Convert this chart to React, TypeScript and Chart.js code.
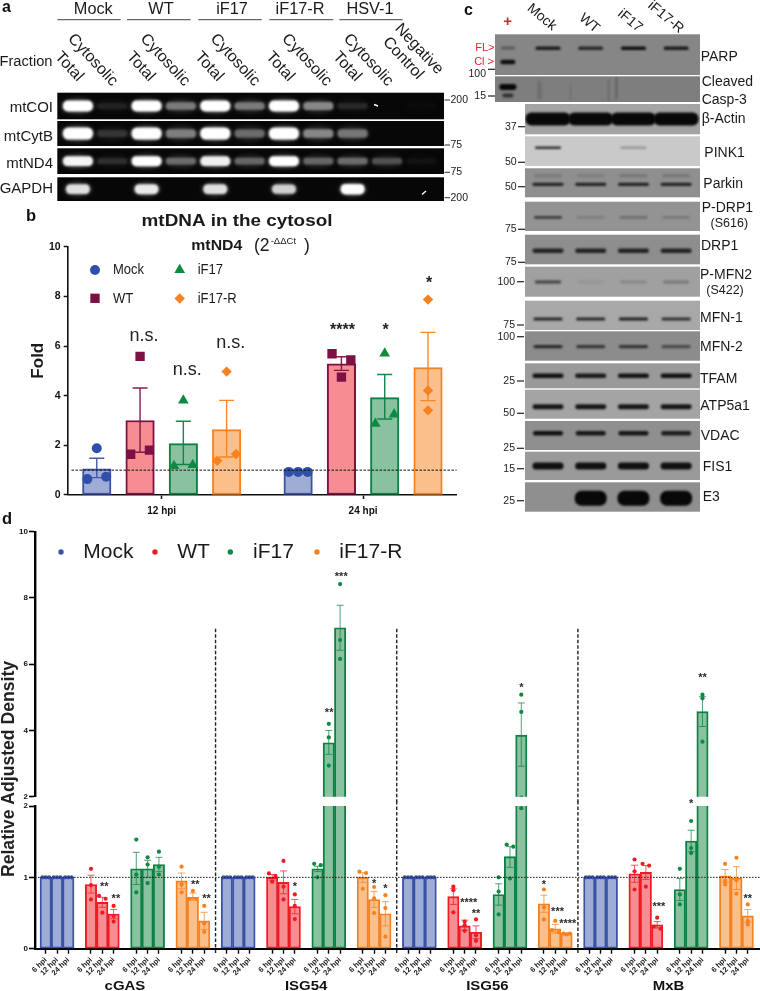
import React, { useEffect, useRef } from 'react';
import { Chart, registerables } from 'chart.js';
import { drawPoint } from 'chart.js/helpers';

Chart.register(...registerables);
Chart.defaults.font.family = '"Liberation Sans", Arial, sans-serif';

// ---------- Panel b data ----------
const B_TIMES = [12, 24];
const B_MOCK_MEAN = [1.05, 1.0];
const B_WT_MEAN = [3.0, 5.28];
const B_IF17_MEAN = [2.07, 3.92];
const B_IF17R_MEAN = [2.63, 5.13];
const B_MOCK_HI = [1.48, 1.0];
const B_WT_HI = [4.31, 5.57];
const B_IF17_HI = [2.97, 4.85];
const B_IF17R_HI = [3.81, 6.55];
const B_MOCK_LO = [0.7, 1.0];
const B_WT_LO = [1.72, 5.02];
const B_IF17_LO = [1.23, 3.06];
const B_IF17R_LO = [1.53, 3.8];
const B_MOCK_PTS = [[1.88, 0.64, 0.74], [0.93, 0.93, 0.93]];
const B_WT_PTS = [[5.58, 1.64, 1.81], [5.69, 5.44, 4.75]];
const B_IF17_PTS = [[3.81, 1.17, 1.21], [5.7, 2.87, 3.25]];
const B_IF17R_PTS = [[4.97, 1.38, 1.65], [7.87, 4.21, 3.41]];
const B_NOTES = [
  { s: 1, t: 0, v: 6.42, text: 'n.s.' },
  { s: 2, t: 0, v: 5.03, text: 'n.s.' },
  { s: 3, t: 0, v: 6.13, text: 'n.s.' },
  { s: 1, t: 1, v: 6.75, text: '****' },
  { s: 2, t: 1, v: 6.75, text: '*' },
  { s: 3, t: 1, v: 8.64, text: '*' },
];

// ---------- Panel d data ----------
const D_GENES = ['cGAS', 'ISG54', 'ISG56', 'MxB'];
const D_TIMES = ['6 hpi', '12 hpi', '24 hpi'];
const D_MOCK_MEAN = [1, 1, 1, 1, 1, 1, 1, 1, 1, 1, 1, 1];
const D_MOCK_PTS = D_MOCK_MEAN.map((m) => [m, m, m]);
const D_WT_MEAN = [0.9, 0.65, 0.486, 1.0, 0.93, 0.59, 0.73, 0.32, 0.23, 1.05, 1.07, 0.335];
const D_WT_HI = [1.03, 0.72, 0.55, 1.04, 1.09, 0.69, 0.84, 0.4, 0.32, 1.17, 1.165, 0.38];
const D_WT_LO = [0.78, 0.58, 0.42, 0.96, 0.77, 0.49, 0.62, 0.26, 0.14, 0.93, 0.97, 0.29];
const D_WT_PTS = [
  [1.12, 0.89, 0.69], [0.74, 0.7, 0.505], [0.6, 0.46, 0.38],
  [1.055, 1.02, 0.94], [1.23, 0.87, 0.69], [0.76, 0.6, 0.415],
  [0.87, 0.82, 0.51], [0.38, 0.33, 0.25], [0.41, 0.19, 0.11],
  [1.25, 1.085, 0.83], [1.19, 1.165, 0.87], [0.435, 0.31, 0.28],
];
const D_IF17_MEAN = [1.12, 1.12, 1.18, 1.12, 3.63, 7.1, 0.76, 1.29, 3.86, 0.83, 1.51, 4.57];
const D_IF17_HI = [1.35, 1.24, 1.28, 1.155, 4.0, 7.78, 0.91, 1.43, 4.83, 0.985, 1.66, 5.02];
const D_IF17_LO = [0.9, 1.0, 1.08, 1.08, 3.28, 6.42, 0.61, 1.14, 2.92, 0.675, 1.36, 4.12];
const D_IF17_PTS = [
  [1.53, 1.04, 0.79], [1.28, 1.18, 0.92], [1.36, 1.15, 1.04],
  [1.19, 1.17, 1.0], [4.2, 3.79, 2.94], [8.42, 6.73, 6.16],
  [1.0, 0.8, 0.48], [1.46, 1.43, 0.985], [5.08, 4.56, 1.97],
  [1.12, 0.76, 0.62], [1.79, 1.41, 1.34], [5.08, 4.97, 3.66],
];
const D_IF17R_MEAN = [0.95, 0.72, 0.39, 1.0, 0.69, 0.49, 0.63, 0.28, 0.215, 1.02, 0.99, 0.46];
const D_IF17R_HI = [1.06, 0.78, 0.51, 1.065, 0.8, 0.66, 0.75, 0.34, 0.22, 1.11, 1.15, 0.55];
const D_IF17R_LO = [0.84, 0.68, 0.27, 0.93, 0.58, 0.32, 0.51, 0.22, 0.21, 0.93, 0.83, 0.37];
const D_IF17R_PTS = [
  [1.15, 0.9, 0.79], [0.81, 0.7, 0.7], [0.6, 0.355, 0.235],
  [1.08, 1.06, 0.84], [0.865, 0.705, 0.5], [0.75, 0.57, 0.17],
  [0.83, 0.58, 0.41], [0.39, 0.26, 0.23], [0.21, 0.2, 0.21],
  [1.19, 0.95, 0.9], [1.275, 0.96, 0.77], [0.62, 0.39, 0.34],
];
const D_STARS = [
  { x: 5.17, v: 0.89, text: '**' }, { x: 6.2, v: 0.73, text: '**' },
  { x: 13.2, v: 0.925, text: '**' }, { x: 14.2, v: 0.73, text: '**' },
  { x: 22, v: 0.9, text: '*' }, { x: 29, v: 0.94, text: '*' }, { x: 30, v: 0.865, text: '*' },
  { x: 37.36, v: 0.67, text: '****' }, { x: 38, v: 0.51, text: '**' },
  { x: 44, v: 0.92, text: '*' }, { x: 45.2, v: 0.54, text: '***' }, { x: 46.1, v: 0.38, text: '****' },
  { x: 54.15, v: 0.61, text: '***' }, { x: 62, v: 0.72, text: '**' }, { x: 57, v: 2.05, text: '*' },
  { x: 25.03, v: 4.59, text: '**' }, { x: 26.1, v: 8.69, text: '***' },
  { x: 42, v: 5.33, text: '*' }, { x: 58, v: 5.63, text: '**' },
];

// ---------- Panel a data (band brightness per lane) ----------
const A_MTCOI = [1, 0.08, 1, 0.4, 1, 0.4, 1, 0.45, 0.1, 0, 0.02];
const A_MTCYTB = [1, 0.14, 1, 0.42, 1, 0.34, 1, 0.45, 0.38, 0, 0];
const A_MTND4 = [0.95, 0.12, 1, 0.34, 0.92, 0.32, 1, 0.32, 0.34, 0.24, 0.04];
const A_GAPDH = [0.85, 0, 0.9, 0, 0.85, 0, 0.78, 0, 1, 0, 0];

// ---------- Panel c data (band darkness per lane: Mock, WT, iF17, iF17-R) ----------
const C_PARP = [0.85, 0.75, 0.95, 0.85];
const C_ACTIN = [1, 1, 1, 1];
const C_PINK1 = [0.8, 0, 0.25, 0];
const C_PARKIN = [0.8, 0.8, 0.8, 0.8];
const C_PARKIN_UPPER = [0.16, 0.12, 0.18, 0.18];
const C_PDRP1 = [0.62, 0.14, 0.26, 0.18];
const C_DRP1 = [0.8, 0.8, 0.8, 0.8];
const C_PMFN2 = [0.62, 0.07, 0.16, 0.26];
const C_MFN1 = [0.8, 0.8, 0.85, 0.75];
const C_MFN2 = [0.75, 0.65, 0.68, 0.5];
const C_TFAM = [0.95, 0.88, 0.92, 0.95];
const C_ATP5A1 = [0.9, 0.9, 0.9, 0.9];
const C_VDAC = [0.95, 0.9, 0.9, 0.85];
const C_FIS1 = [0.95, 0.95, 0.95, 0.95];
const C_E3 = [0, 1, 1, 1];

// ---------- Layout and style ----------
const FONT = '"Liberation Sans", Arial, sans-serif';
const W = 760;
const H = 991;
const BLUE = '#3a53a4';
const RED = '#ed1c24';
const GREEN = '#0d8043';
const ORANGE = '#f58220';
const BURGUNDY = '#7d1143';
const FILL_BLUE = '#9fadd6';
const FILL_RED = '#f68d93';
const FILL_GREEN = '#8ac2a0';
const FILL_ORANGE = '#fbbf8b';

type TextOpt = { size?: number; weight?: string; color?: string; align?: CanvasTextAlign; rot?: number; sx?: number };
function text(ctx: CanvasRenderingContext2D, s: string, x: number, y: number, o: TextOpt = {}) {
  const { size = 14, weight = 'normal', color = '#1a1a1a', align = 'left', rot = 0, sx = 1 } = o;
  ctx.save();
  ctx.translate(x, y);
  ctx.rotate((rot * Math.PI) / 180);
  ctx.scale(sx, 1);
  ctx.font = `${weight} ${size}px ${FONT}`;
  ctx.fillStyle = color;
  ctx.textAlign = align;
  ctx.textBaseline = 'middle';
  ctx.fillText(s, 0, 0);
  ctx.restore();
}

function spreadOffsets(vals: number[], th: number) {
  const out = [0, 0, 0];
  const close = (a: number, b: number) => Math.abs(a - b) < th;
  if (close(vals[0], vals[1]) && close(vals[1], vals[2])) return [-1, 0, 1];
  for (let i = 0; i < 3; i++) {
    for (let j = i + 1; j < 3; j++) {
      if (close(vals[i], vals[j])) {
        out[i] = -1;
        out[j] = 1;
      }
    }
  }
  return out;
}

type Err = { x: number; hi: number; lo: number; color: string };
function errorPlugin(items: Err[], cap: number, lw: number, alpha: number) {
  return {
    id: 'errs',
    beforeDatasetDraw(chart: any, args: any) {
      if (args.meta.type !== 'scatter' || chart.$errDone) return;
      chart.$errDone = true;
      const { ctx, chartArea: a, scales } = chart;
      ctx.save();
      ctx.beginPath();
      ctx.rect(a.left, a.top, a.width, a.height);
      ctx.clip();
      ctx.lineWidth = lw;
      ctx.globalAlpha = alpha;
      for (const e of items) {
        if (e.hi === e.lo) continue;
        const x = scales.x.getPixelForValue(e.x);
        const h = scales.y.getPixelForValue(e.hi);
        const l = scales.y.getPixelForValue(e.lo);
        ctx.strokeStyle = e.color;
        ctx.beginPath();
        ctx.moveTo(x, h);
        ctx.lineTo(x, l);
        ctx.moveTo(x - cap / 2, h);
        ctx.lineTo(x + cap / 2, h);
        ctx.moveTo(x - cap / 2, l);
        ctx.lineTo(x + cap / 2, l);
        ctx.stroke();
      }
      ctx.restore();
    },
    beforeDraw(chart: any) {
      chart.$errDone = false;
    },
  };
}

// ---------- Panel a ----------
function panelAConfig() {
  const rows = [
    { name: 'mtCOI', vals: A_MTCOI, top: 92.7, bottom: 119.3, h: 11, w: 30 },
    { name: 'mtCytB', vals: A_MTCYTB, top: 121, bottom: 146, h: 12, w: 30 },
    { name: 'mtND4', vals: A_MTND4, top: 148.3, bottom: 174, h: 10, w: 30 },
    { name: 'GAPDH', vals: A_GAPDH, top: 177.3, bottom: 201, h: 10.5, w: 24 },
  ];
  const ladder = [
    { t: '200', y: 100 }, { t: '75', y: 145 }, { t: '75', y: 172.3 }, { t: '200', y: 197.7 },
  ];
  const groups = [
    { t: 'Mock', c: 93.3, a: 57.3, b: 120.7 }, { t: 'WT', c: 161, a: 127, b: 190.7 },
    { t: 'iF17', c: 232, a: 198.3, b: 261.7 }, { t: 'iF17-R', c: 300, a: 269.3, b: 333.3 },
    { t: 'HSV-1', c: 370, a: 339.3, b: 402.7 },
  ];
  const fractions = [
    { t: 'Total', x: 69, y: 66.7 }, { t: 'Cytosolic', x: 92.7, y: 60 },
    { t: 'Total', x: 140.7, y: 66.7 }, { t: 'Cytosolic', x: 165, y: 60 },
    { t: 'Total', x: 209, y: 66.7 }, { t: 'Cytosolic', x: 235, y: 60 },
    { t: 'Total', x: 280, y: 66.7 }, { t: 'Cytosolic', x: 306.7, y: 60 },
    { t: 'Total', x: 347, y: 66.7 }, { t: 'Cytosolic', x: 368.3, y: 60 },
    { t: 'Control', x: 403, y: 58.3 }, { t: 'Negative', x: 419, y: 49 },
  ];
  const plugin = {
    id: 'gelA',
    beforeDatasetsDraw(chart: any) {
      const { ctx, chartArea: a } = chart;
      rows.forEach((r, ri) => {
        const top = chart.scales.y.getPixelForValue(r.top);
        const bottom = chart.scales.y.getPixelForValue(r.bottom);
        ctx.save();
        ctx.fillStyle = '#070707';
        ctx.fillRect(a.left, top, a.width, bottom - top);
        ctx.beginPath();
        ctx.rect(a.left, top, a.width, bottom - top);
        ctx.clip();
        chart.getDatasetMeta(ri).data.forEach((pt: any, i: number) => {
          const v = r.vals[i];
          if (v <= 0) return;
          const gray = Math.round(255 * Math.min(1, Math.pow(v, 0.8)));
          ctx.filter = 'blur(2.5px)';
          ctx.fillStyle = `rgba(${gray},${gray},${gray},0.35)`;
          ctx.beginPath();
          ctx.ellipse(pt.x, pt.y, r.w / 2 + 1, r.h / 2 + 1, 0, 0, Math.PI * 2);
          ctx.fill();
          ctx.filter = 'blur(1.1px)';
          ctx.fillStyle = `rgb(${gray},${gray},${gray})`;
          ctx.beginPath();
          const bh = r.h * (0.5 + 0.5 * v);
          ctx.roundRect(pt.x - r.w / 2, pt.y - bh / 2, r.w, bh, bh / 2.2);
          ctx.fill();
        });
        ctx.restore();
      });
      ctx.save();
      ctx.filter = 'blur(0.5px)';
      ctx.strokeStyle = '#fff';
      ctx.lineWidth = 1.4;
      ctx.beginPath();
      ctx.moveTo(374, 104.5);
      ctx.lineTo(378, 106);
      ctx.moveTo(422, 194.5);
      ctx.lineTo(426, 191);
      ctx.stroke();
      ctx.restore();
    },
    afterDraw(chart: any) {
      const { ctx } = chart;
      text(ctx, 'a', 2, 8, { size: 16, weight: 'bold', color: '#111' });
      groups.forEach((g) => {
        text(ctx, g.t, g.c, 10, { size: 16.3, align: 'center' });
        ctx.fillStyle = '#444';
        ctx.fillRect(g.a, 19.2, g.b - g.a, 1);
      });
      text(ctx, 'Fraction', 52.5, 61.7, { size: 14.7, align: 'right' });
      fractions.forEach((f) => text(ctx, f.t, f.x, f.y, { size: 16, align: 'center', rot: 47 }));
      const labelY = [108, 136.7, 164, 189.3];
      rows.forEach((r, i) => text(ctx, r.name, 53, labelY[i], { size: 15, align: 'right' }));
      ladder.forEach((l) => {
        ctx.fillStyle = '#333';
        ctx.fillRect(444.5, l.y - 0.5, 5.5, 1);
        text(ctx, l.t, 450.5, l.y, { size: 10.5, color: '#222' });
      });
    },
  };
  return {
    type: 'scatter',
    data: {
      datasets: rows.map((r) => ({
        label: r.name,
        data: r.vals.map((_, i) => ({ x: i, y: (r.top + r.bottom) / 2 })),
        pointRadius: 0,
      })),
    },
    options: {
      animation: false,
      responsive: false,
      layout: { autoPadding: false, padding: { left: 57.3, right: W - 444, top: 92.7, bottom: H - 201 } },
      plugins: { legend: { display: false }, tooltip: { enabled: false } },
      scales: {
        x: { display: false, min: -0.6, max: 10.66 },
        y: { display: false, min: 92.7, max: 201, reverse: true },
      },
    },
    plugins: [plugin],
  };
}

// ---------- Panel c ----------
function panelCConfig() {
  const L = -1.241;
  const S = -0.539;
  const R = 3.559;
  const blots = [
    { t: 'PARP', top: 34.3, bottom: 75, left: L, bg: '#868686' },
    { t: 'Cleaved', top: 76.3, bottom: 102, left: L, bg: '#7e7e7e' },
    { t: 'Actin', top: 104, bottom: 134.3, left: S, bg: '#a4a4a4' },
    { t: 'PINK1', top: 136.3, bottom: 166, left: S, bg: '#c9c9c9' },
    { t: 'Parkin', top: 168.3, bottom: 197.3, left: S, bg: '#8f8f8f' },
    { t: 'PDRP1', top: 201.7, bottom: 231, left: S, bg: '#939393' },
    { t: 'DRP1', top: 234.7, bottom: 264.3, left: S, bg: '#8e8e8e' },
    { t: 'PMFN2', top: 266.7, bottom: 296.7, left: S, bg: '#a0a0a0' },
    { t: 'MFN1', top: 300.7, bottom: 330, left: S, bg: '#a8a8a8' },
    { t: 'MFN2', top: 331.3, bottom: 360.7, left: S, bg: '#8c8c8c' },
    { t: 'TFAM', top: 363.3, bottom: 388.3, left: S, bg: '#9a9a9a' },
    { t: 'ATP5a1', top: 389.7, bottom: 418.7, left: S, bg: '#a4a4a4' },
    { t: 'VDAC', top: 421, bottom: 450, left: S, bg: '#8f8f8f' },
    { t: 'FIS1', top: 451.7, bottom: 480, left: S, bg: '#9a9a9a' },
    { t: 'E3', top: 482.3, bottom: 511.7, left: S, bg: '#8f8f8f' },
  ];
  const sets = [
    { vals: C_PARP, y: 48.3, w: 29, h: 3.4 },
    { vals: C_ACTIN, y: 119, w: 45, h: 13 },
    { vals: C_PINK1, y: 147.7, w: 30, h: 2.4 },
    { vals: C_PARKIN, y: 184.3, w: 35, h: 3.2 },
    { vals: C_PARKIN_UPPER, y: 175.7, w: 32, h: 3 },
    { vals: C_PDRP1, y: 217.3, w: 32, h: 2.8 },
    { vals: C_DRP1, y: 250.7, w: 35, h: 4.4 },
    { vals: C_PMFN2, y: 282, w: 30, h: 2.8 },
    { vals: C_MFN1, y: 319, w: 33, h: 3 },
    { vals: C_MFN2, y: 346.7, w: 33, h: 3.2 },
    { vals: C_TFAM, y: 375.7, w: 35, h: 4.4 },
    { vals: C_ATP5A1, y: 406.7, w: 35, h: 5 },
    { vals: C_VDAC, y: 433.3, w: 34, h: 4.4 },
    { vals: C_FIS1, y: 466, w: 35, h: 7 },
    { vals: C_E3, y: 498.3, w: 36, h: 15 },
  ];
  const extra = [
    { x: -0.94, y: 48, v: 0.35, w: 18, h: 3 },
    { x: -0.94, y: 62, v: 0.95, w: 19, h: 4.5 },
    { x: -0.94, y: 87, v: 1, w: 21, h: 6 },
    { x: -0.94, y: 95.5, v: 0.65, w: 15, h: 4 },
    { x: -0.2, y: 90, v: 0.14, w: 8, h: 18 },
    { x: 0.5, y: 92, v: 0.18, w: 2.5, h: 14 },
    { x: 1.4, y: 90, v: 0.28, w: 3, h: 22 },
    { x: 1.6, y: 88, v: 0.5, w: 5, h: 22 },
  ];
  const names = [
    { t: 'PARP', x: 700.7, y: 57.3 }, { t: 'Cleaved', x: 701.7, y: 81.7 }, { t: 'Casp-3', x: 701.7, y: 100 },
    { t: 'β-Actin', x: 701.7, y: 119 }, { t: 'PINK1', x: 704.3, y: 152.7 }, { t: 'Parkin', x: 703.3, y: 184.3 },
    { t: 'P-DRP1', x: 701.7, y: 208.3 }, { t: 'DRP1', x: 701, y: 245.7 }, { t: 'P-MFN2', x: 700, y: 275 },
    { t: 'MFN-1', x: 700, y: 318.3 }, { t: 'MFN-2', x: 700, y: 347.3 }, { t: 'TFAM', x: 700, y: 379.3 },
    { t: 'ATP5a1', x: 700.3, y: 406 }, { t: 'VDAC', x: 700.7, y: 435.7 }, { t: 'FIS1', x: 702.7, y: 466.7 },
    { t: 'E3', x: 702.7, y: 496.7 },
  ];
  const mw = [
    { t: '100', y: 69.3, ly: 74, e: 495, r: 486 }, { t: '15', y: 96, ly: 96, e: 495, r: 486 },
    { t: '37', y: 126.7, ly: 126.7, e: 525, r: 516.7 }, { t: '50', y: 162.3, ly: 162.3, e: 525, r: 516.7 },
    { t: '50', y: 186.7, ly: 186.7, e: 525, r: 516.7 }, { t: '75', y: 229.3, ly: 229.3, e: 525, r: 516.7 },
    { t: '75', y: 262.3, ly: 262.3, e: 525, r: 516.7 }, { t: '100', y: 281.7, ly: 281.7, e: 524, r: 515 },
    { t: '75', y: 325, ly: 325, e: 524, r: 515 }, { t: '100', y: 336.7, ly: 336.7, e: 524, r: 515 },
    { t: '25', y: 381, ly: 381, e: 524, r: 515 }, { t: '50', y: 413.3, ly: 413.3, e: 524, r: 515 },
    { t: '25', y: 448.3, ly: 448.3, e: 524, r: 515 }, { t: '15', y: 468.7, ly: 468.7, e: 524, r: 515 },
    { t: '25', y: 500.7, ly: 500.7, e: 524, r: 515 },
  ];
  const plugin = {
    id: 'gelC',
    beforeDatasetsDraw(chart: any) {
      const { ctx, scales } = chart;
      blots.forEach((b) => {
        const x0 = scales.x.getPixelForValue(b.left);
        const x1 = scales.x.getPixelForValue(R);
        const y0 = scales.y.getPixelForValue(b.top);
        const y1 = scales.y.getPixelForValue(b.bottom);
        ctx.fillStyle = b.bg;
        ctx.fillRect(x0, y0, x1 - x0, y1 - y0);
      });
      chart.data.datasets.forEach((ds: any, di: number) => {
        chart.getDatasetMeta(di).data.forEach((pt: any, i: number) => {
          const d = ds.data[i];
          if (!d.v) return;
          ctx.save();
          const blot = blots.find((b) => d.y >= b.top && d.y <= b.bottom);
          if (blot) {
            const x0 = scales.x.getPixelForValue(blot.left);
            const x1 = scales.x.getPixelForValue(R);
            const y0 = scales.y.getPixelForValue(blot.top);
            const y1 = scales.y.getPixelForValue(blot.bottom);
            ctx.beginPath();
            ctx.rect(x0, y0, x1 - x0, y1 - y0);
            ctx.clip();
          }
          ctx.filter = 'blur(1px)';
          ctx.fillStyle = `rgba(8,8,8,${d.v})`;
          ctx.beginPath();
          const inset = d.w >= 44 ? 0 : 2;
          ctx.roundRect(pt.x - d.w / 2 + inset, pt.y - d.h / 2, Math.max(d.w - inset * 2, 1), d.h, d.h / 2.2);
          ctx.fill();
          ctx.restore();
        });
      });
    },
    afterDraw(chart: any) {
      const { ctx } = chart;
      text(ctx, 'c', 464, 11, { size: 16, weight: 'bold', color: '#111' });
      text(ctx, '+', 507.7, 22, { size: 15, weight: 'bold', color: '#ed1c24', align: 'center' });
      text(ctx, 'Mock', 541.7, 17.3, { size: 14, align: 'center', rot: 40 });
      text(ctx, 'WT', 589.3, 23.3, { size: 14, align: 'center', rot: 40 });
      text(ctx, 'iF17', 630, 20.7, { size: 14, align: 'center', rot: 40 });
      text(ctx, 'iF17-R', 665.7, 17.3, { size: 14, align: 'center', rot: 40 });
      text(ctx, 'FL>', 494.5, 47.7, { size: 11, color: '#ed1c24', align: 'right' });
      text(ctx, 'Cl >', 494, 62, { size: 11, color: '#ed1c24', align: 'right' });
      names.forEach((n) => text(ctx, n.t, n.x, n.y, { size: 14 }));
      text(ctx, '(S616)', 729.3, 224, { size: 12.5, align: 'center' });
      text(ctx, '(S422)', 725, 290.7, { size: 12.5, align: 'center' });
      mw.forEach((m) => {
        ctx.fillStyle = '#222';
        ctx.fillRect(m.e - 7, m.y - 0.6, 7, 1.2);
        text(ctx, m.t, m.r, m.ly, { size: 10.5, align: 'right', color: '#222' });
      });
    },
  };
  const data = sets.flatMap((s) => s.vals.map((v, i) => ({ x: i, y: s.y, v, w: s.w, h: s.h }))).concat(extra);
  return {
    type: 'scatter',
    data: { datasets: [{ label: 'bands', data, pointRadius: 0 }] },
    options: {
      animation: false,
      responsive: false,
      layout: { autoPadding: false, padding: { left: 495, right: W - 700, top: 34.3, bottom: H - 512 } },
      plugins: { legend: { display: false }, tooltip: { enabled: false } },
      scales: {
        x: { display: false, min: L, max: R },
        y: { display: false, min: 34.3, max: 512, reverse: true },
      },
    },
    plugins: [plugin],
  };
}

// ---------- Panel b ----------
const B_STEP = 2.58;
function panelBConfig() {
  const series = [
    { name: 'Mock', mean: B_MOCK_MEAN, hi: B_MOCK_HI, lo: B_MOCK_LO, pts: B_MOCK_PTS, fill: FILL_BLUE, line: BLUE, mark: '#2f4fa8', style: 'circle', r: 5 },
    { name: 'WT', mean: B_WT_MEAN, hi: B_WT_HI, lo: B_WT_LO, pts: B_WT_PTS, fill: FILL_RED, line: BURGUNDY, mark: BURGUNDY, style: 'rect', r: 6.6 },
    { name: 'iF17', mean: B_IF17_MEAN, hi: B_IF17_HI, lo: B_IF17_LO, pts: B_IF17_PTS, fill: FILL_GREEN, line: GREEN, mark: '#0f8a45', style: 'triangle', r: 6.2 },
    { name: 'iF17-R', mean: B_IF17R_MEAN, hi: B_IF17R_HI, lo: B_IF17R_LO, pts: B_IF17R_PTS, fill: FILL_ORANGE, line: ORANGE, mark: ORANGE, style: 'rectRot', r: 5.2 },
  ];
  const pos = (s: number, t: number) => B_TIMES[t] + (s - 1.5) * B_STEP;
  const bars = series.map((s, si) => ({
    type: 'bar',
    label: s.name,
    data: s.mean.map((m, t) => ({ x: pos(si, t), y: m })),
    backgroundColor: s.fill,
    borderColor: s.line,
    borderWidth: 2,
    borderSkipped: false,
    barThickness: 28.5,
    grouped: false,
    order: 5,
  }));
  const points = series.map((s, si) => ({
    type: 'scatter',
    label: s.name + ' replicates',
    data: s.pts.flatMap((vals, t) => {
      const off = spreadOffsets(vals, 0.4);
      return vals.map((v, i) => ({ x: pos(si, t) + off[i] * 0.56, y: v }));
    }),
    pointStyle: s.style,
    pointRadius: s.r,
    backgroundColor: s.mark,
    borderWidth: 0,
    order: 1,
  }));
  const errs: Err[] = series.flatMap((s, si) =>
    s.mean.map((_, t) => ({ x: pos(si, t), hi: s.hi[t], lo: s.lo[t], color: s.line }))
  );
  const plugin = {
    id: 'panelB',
    afterDatasetsDraw(chart: any) {
      const { ctx, scales } = chart;
      const y = scales.y.getPixelForValue(1);
      ctx.save();
      ctx.setLineDash([2.5, 1.5]);
      ctx.strokeStyle = '#111';
      ctx.lineWidth = 1;
      ctx.beginPath();
      ctx.moveTo(71.5, y);
      ctx.lineTo(456.7, y);
      ctx.stroke();
      ctx.restore();
    },
    afterDraw(chart: any) {
      const { ctx, scales } = chart;
      text(ctx, 'b', 26, 216, { size: 16.5, weight: 'bold', color: '#111' });
      text(ctx, 'mtDNA in the cytosol', 237, 221.7, { size: 17, weight: 'bold', align: 'center', sx: 1.11 });
      text(ctx, 'mtND4', 191.3, 245.7, { size: 14, weight: 'bold', sx: 1.13 });
      text(ctx, '(2', 254, 246, { size: 17.5 });
      text(ctx, '-ΔΔCt', 270.7, 241, { size: 9.5 });
      text(ctx, ')', 304, 246, { size: 17.5 });
      text(ctx, 'Fold', 38.3, 360.7, { size: 17, weight: 'bold', align: 'center', rot: -90 });
      const legend = [
        { x: 95, y: 270 }, { x: 95, y: 298.3 }, { x: 179.7, y: 270 }, { x: 179.7, y: 298.5 },
      ];
      series.forEach((s, i) => {
        ctx.save();
        ctx.fillStyle = s.mark;
        drawPoint(ctx, { pointStyle: s.style, rotation: 0, borderWidth: 0, radius: s.r }, legend[i].x, legend[i].y);
        ctx.restore();
        text(ctx, s.name, legend[i].x + 18, legend[i].y, { size: 15.5, sx: 0.84 });
      });
      B_NOTES.forEach((n) => {
        const x = scales.x.getPixelForValue(pos(n.s, n.t));
        const y = scales.y.getPixelForValue(n.v);
        if (n.text === 'n.s.') text(ctx, n.text, x + 4, y, { size: 18, align: 'center', color: '#222' });
        else text(ctx, n.text, x + 1, y + 3, { size: 16, weight: 'bold', align: 'center', color: '#222' });
      });
    },
  };
  return {
    type: 'bar',
    data: { datasets: [...bars, ...points] },
    options: {
      animation: false,
      responsive: false,
      layout: { autoPadding: false, padding: { left: 0, right: W - 456.7, top: 246.7, bottom: H - 495 - 22 } },
      plugins: { legend: { display: false }, tooltip: { enabled: false } },
      scales: {
        x: {
          type: 'linear',
          offset: false,
          min: 6.398,
          max: 29.58,
          afterBuildTicks: (a: any) => {
            a.ticks = B_TIMES.map((v) => ({ value: v }));
          },
          afterFit: (s: any) => {
            s.height = 22;
          },
          grid: { display: true, offset: false, drawOnChartArea: false, tickLength: 4, tickWidth: 1.5, tickColor: '#111' },
          border: { display: true, color: '#111', width: 1.6 },
          ticks: {
            autoSkip: false,
            maxRotation: 0,
            padding: 6,
            color: '#111',
            font: { size: 10, weight: 'bold' },
            callback: (v: number) => `${v} hpi`,
          },
        },
        y: {
          min: 0,
          max: 10,
          afterFit: (s: any) => {
            s.width = 67.7;
          },
          grid: { display: true, drawOnChartArea: false, tickLength: 4, tickWidth: 1.5, tickColor: '#111' },
          border: { display: true, color: '#111', width: 1.6 },
          ticks: { stepSize: 2, padding: 3, color: '#111', font: { size: 10.5, weight: 'bold' } },
        },
      },
    },
    plugins: [errorPlugin(errs, 15, 1.4, 0.95), plugin],
  };
}

// ---------- Panel d ----------
const D_SERIES = [
  { name: 'Mock', mean: D_MOCK_MEAN, hi: D_MOCK_MEAN, lo: D_MOCK_MEAN, pts: D_MOCK_PTS, fill: FILL_BLUE, line: BLUE, dot: BLUE },
  { name: 'WT', mean: D_WT_MEAN, hi: D_WT_HI, lo: D_WT_LO, pts: D_WT_PTS, fill: FILL_RED, line: RED, dot: RED },
  { name: 'iF17', mean: D_IF17_MEAN, hi: D_IF17_HI, lo: D_IF17_LO, pts: D_IF17_PTS, fill: FILL_GREEN, line: GREEN, dot: '#0a8a45' },
  { name: 'iF17-R', mean: D_IF17R_MEAN, hi: D_IF17R_HI, lo: D_IF17R_LO, pts: D_IF17R_PTS, fill: FILL_ORANGE, line: ORANGE, dot: ORANGE },
];
const slotOf = (series: number, k: number) => Math.floor(k / 3) * 16 + series * 4 + (k % 3);
const D_X_MIN = -0.944;
const D_X_MAX = 63.08;
const SLOT_PX = (760 - 35) / (D_X_MAX - D_X_MIN);

function dDatasets() {
  const bars = D_SERIES.map((s, si) => ({
    type: 'bar',
    label: s.name,
    data: s.mean.map((m, k) => ({ x: slotOf(si, k), y: m })),
    backgroundColor: s.fill,
    borderColor: s.line,
    borderWidth: 1.9,
    borderSkipped: false,
    barThickness: SLOT_PX,
    grouped: false,
    clip: 0,
    order: 5,
  }));
  const points = D_SERIES.map((s, si) => ({
    type: 'scatter',
    label: s.name + ' replicates',
    data: s.pts.flatMap((vals, k) => {
      const off = spreadOffsets(vals, 0.045);
      return vals.map((v, i) => ({ x: slotOf(si, k) + off[i] * 0.29, y: v }));
    }),
    pointStyle: 'circle',
    pointRadius: 2.1,
    backgroundColor: s.dot,
    borderWidth: 0,
    clip: 0,
    order: 1,
  }));
  return [...bars, ...points];
}
function dErrs(): Err[] {
  return D_SERIES.flatMap((s, si) =>
    s.mean.map((_, k) => ({ x: slotOf(si, k), hi: s.hi[k], lo: s.lo[k], color: s.line }))
  );
}
const D_SEPARATORS = [15, 31, 47];
function starPlugin(vMin: number, vMax: number) {
  return {
    id: 'stars',
    afterDraw(chart: any) {
      const { ctx, scales } = chart;
      D_STARS.filter((s) => s.v >= vMin && s.v < vMax).forEach((s) =>
        text(ctx, s.text, scales.x.getPixelForValue(s.x), scales.y.getPixelForValue(s.v) + 2, {
          size: 11,
          weight: 'bold',
          align: 'center',
          color: '#2a2a2a',
        })
      );
    },
  };
}
function panelDUpperConfig() {
  const plugin = {
    id: 'dUpper',
    afterDatasetsDraw(chart: any) {
      const { ctx, scales, chartArea: a } = chart;
      ctx.save();
      ctx.setLineDash([3.5, 2]);
      ctx.strokeStyle = '#222';
      ctx.lineWidth = 1.4;
      D_SEPARATORS.forEach((sl) => {
        const x = scales.x.getPixelForValue(sl);
        ctx.beginPath();
        ctx.moveTo(x, scales.y.getPixelForValue(7.07));
        ctx.lineTo(x, a.bottom + 5);
        ctx.stroke();
      });
      ctx.restore();
    },
    afterDraw(chart: any) {
      const { ctx } = chart;
      text(ctx, 'd', 2, 519, { size: 16.5, weight: 'bold', color: '#111' });
      const lg = [{ d: 61, t: 83.3 }, { d: 155, t: 177.3 }, { d: 230.3, t: 253 }, { d: 317, t: 339.3 }];
      D_SERIES.forEach((s, i) => {
        ctx.fillStyle = s.dot;
        ctx.beginPath();
        ctx.arc(lg[i].d, 552, 2.7, 0, Math.PI * 2);
        ctx.fill();
        text(ctx, s.name, lg[i].t, 552, { size: 21, color: '#1a1a1a' });
      });
      text(ctx, 'Relative Adjusted Density', 9, 769, { size: 17.6, weight: 'bold', align: 'center', rot: -90, color: '#222' });
    },
  };
  return {
    type: 'bar',
    data: { datasets: dDatasets() },
    options: {
      animation: false,
      responsive: false,
      layout: { autoPadding: false, padding: { left: 0, right: 0, top: 531.7, bottom: H - 796.7 } },
      plugins: { legend: { display: false }, tooltip: { enabled: false } },
      scales: {
        x: { type: 'linear', display: false, offset: false, min: D_X_MIN, max: D_X_MAX, grid: { offset: false } },
        y: {
          min: 2,
          max: 10,
          afterFit: (s: any) => {
            s.width = 35;
          },
          grid: { display: true, drawOnChartArea: false, tickLength: 6, tickWidth: 1.6, tickColor: '#000' },
          border: { display: true, color: '#000', width: 2.4 },
          ticks: { stepSize: 2, padding: 1, color: '#111', font: { size: 8, weight: 'bold' } },
        },
      },
    },
    plugins: [errorPlugin(dErrs(), 7, 0.9, 0.8), plugin, starPlugin(2.5, 100)],
  };
}
function panelDLowerConfig() {
  const slots: number[] = [];
  const labels: Record<number, string> = {};
  D_GENES.forEach((_, g) =>
    D_SERIES.forEach((__, s) =>
      D_TIMES.forEach((t, i) => {
        const k = g * 3 + i;
        const sl = slotOf(s, k);
        slots.push(sl);
        labels[sl] = t;
      })
    )
  );
  const plugin = {
    id: 'dLower',
    afterDatasetsDraw(chart: any) {
      const { ctx, scales, chartArea: a } = chart;
      const y1 = scales.y.getPixelForValue(1);
      ctx.save();
      ctx.setLineDash([1.6, 1.4]);
      ctx.strokeStyle = '#222';
      ctx.lineWidth = 1;
      ctx.beginPath();
      ctx.moveTo(a.left, y1);
      ctx.lineTo(a.right, y1);
      ctx.stroke();
      ctx.setLineDash([3.5, 2]);
      ctx.lineWidth = 1.4;
      D_SEPARATORS.forEach((sl) => {
        const x = scales.x.getPixelForValue(sl);
        ctx.beginPath();
        ctx.moveTo(x, a.top - 5);
        ctx.lineTo(x, a.bottom + 5);
        ctx.stroke();
      });
      ctx.restore();
    },
    afterDraw(chart: any) {
      const { ctx, scales } = chart;
      D_GENES.forEach((g, i) =>
        text(ctx, g, scales.x.getPixelForValue(i * 16 + 7), 986, { size: 13, weight: 'bold', align: 'center', sx: 1.15, color: '#111' })
      );
    },
  };
  return {
    type: 'bar',
    data: { datasets: dDatasets() },
    options: {
      animation: false,
      responsive: false,
      layout: { autoPadding: false, padding: { left: 0, right: 0, top: 806, bottom: H - 948.7 - 32 } },
      plugins: { legend: { display: false }, tooltip: { enabled: false } },
      scales: {
        x: {
          type: 'linear',
          offset: false,
          min: D_X_MIN,
          max: D_X_MAX,
          afterBuildTicks: (a: any) => {
            a.ticks = slots.map((v) => ({ value: v }));
          },
          afterFit: (s: any) => {
            s.height = 32;
          },
          grid: { display: true, offset: false, drawOnChartArea: false, tickLength: 5, tickWidth: 1.4, tickColor: '#000' },
          border: { display: true, color: '#000', width: 2 },
          ticks: {
            autoSkip: false,
            minRotation: 45,
            maxRotation: 45,
            padding: 2,
            color: '#222',
            font: { size: 7.5, weight: 'bold' },
            callback: (v: number) => labels[v] ?? '',
          },
        },
        y: {
          min: 0,
          max: 2,
          afterFit: (s: any) => {
            s.width = 35;
          },
          grid: { display: true, drawOnChartArea: false, tickLength: 6, tickWidth: 1.6, tickColor: '#000' },
          border: { display: true, color: '#000', width: 2.4 },
          ticks: { stepSize: 1, padding: 1, color: '#111', font: { size: 8, weight: 'bold' } },
        },
      },
    },
    plugins: [errorPlugin(dErrs(), 7, 0.9, 0.8), plugin, starPlugin(0, 2.5)],
  };
}

const CONFIGS = [panelAConfig, panelCConfig, panelBConfig, panelDUpperConfig, panelDLowerConfig];

function Layer({ make }: { make: () => any }) {
  const ref = useRef<HTMLCanvasElement | null>(null);
  useEffect(() => {
    if (!ref.current) return;
    const chart = new Chart(ref.current, make());
    return () => chart.destroy();
  }, [make]);
  return <canvas ref={ref} width={W} height={H} style={{ position: 'absolute', left: 0, top: 0 }} />;
}

export default function App() {
  return (
    <div style={{ position: 'absolute', left: 0, top: 0, width: W, height: H, background: '#fff', overflow: 'hidden', filter: 'blur(0.35px)' }}>
      {CONFIGS.map((make, i) => (
        <Layer key={i} make={make} />
      ))}
    </div>
  );
}
